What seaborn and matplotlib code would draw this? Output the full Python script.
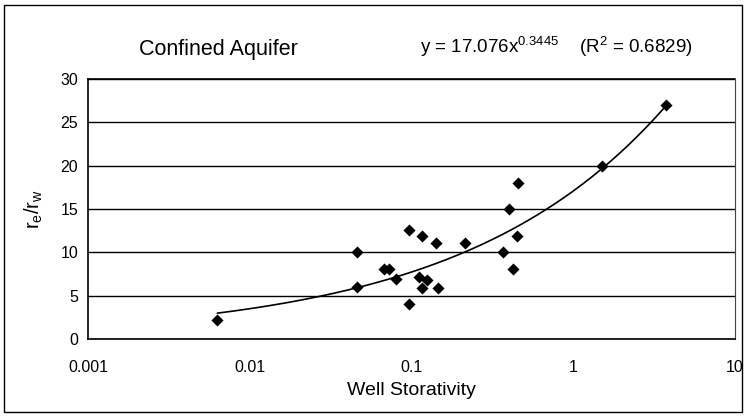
import numpy as np
import pandas as pd
import matplotlib
matplotlib.use("Agg")
import matplotlib.pyplot as plt
from matplotlib.patches import Rectangle
from matplotlib.ticker import FixedLocator, FixedFormatter, NullLocator
import seaborn as sns

# ---- data ----
storativity = [0.0063, 0.046, 0.046, 0.068, 0.073, 0.080, 0.097, 0.097,
               0.111, 0.116, 0.116, 0.125, 0.142, 0.146, 0.214,
               0.368, 0.40, 0.424, 0.449, 0.455, 1.51, 3.74]
re_rw = [2.2, 10.0, 6.0, 8.1, 8.1, 6.9, 12.6, 4.0,
         7.2, 11.9, 5.9, 6.8, 11.1, 5.9, 11.1,
         10.0, 15.0, 8.1, 11.9, 18.0, 20.0, 27.0]

fit_a = 17.076
fit_b = 0.3445
fit_r2 = 0.6829

x_ticks = [0.001, 0.01, 0.1, 1, 10]
x_tick_labels = ["0.001", "0.01", "0.1", "1", "10"]
y_ticks = [0, 5, 10, 15, 20, 25, 30]

title = "Confined Aquifer"
x_label = "Well Storativity"
y_label = r"$\mathregular{r_e/r_w}$"

# ---- plot ----
sns.set_theme(style="white")
plt.rcParams["font.family"] = ["Liberation Sans", "DejaVu Sans"]
plt.rcParams["mathtext.fontset"] = "custom"
plt.rcParams["mathtext.rm"] = "Liberation Sans"
plt.rcParams["mathtext.it"] = "Liberation Sans"

fig = plt.figure(figsize=(7.46, 4.16), dpi=100)
ax = fig.add_axes([88 / 746, 1 - 339 / 416, (735 - 88) / 746, (339 - 79) / 416])

df = pd.DataFrame({"S": storativity, "R": re_rw})

# trend line (power fit) from min to max of data
xs = np.logspace(np.log10(min(storativity)), np.log10(max(storativity)), 200)
line_df = pd.DataFrame({"S": xs, "R": fit_a * xs ** fit_b})
sns.lineplot(data=line_df, x="S", y="R", ax=ax, color="black", linewidth=1.2,
             zorder=3)
sns.scatterplot(data=df, x="S", y="R", ax=ax, marker="D", s=38, color="black",
                edgecolor="black", linewidth=0, zorder=4)

ax.set_xscale("log")
ax.set_xlim(0.001, 10)
ax.set_ylim(0, 30)
ax.xaxis.set_major_locator(FixedLocator(x_ticks))
ax.xaxis.set_major_formatter(FixedFormatter(x_tick_labels))
ax.xaxis.set_minor_locator(NullLocator())
ax.set_yticks(y_ticks)
ax.yaxis.grid(True, color="black", linewidth=1.0)
ax.xaxis.grid(False)
ax.set_axisbelow(True)

for side in ["left", "bottom", "top"]:
    ax.spines[side].set_color("black")
    ax.spines[side].set_linewidth(1.2)
ax.spines["right"].set_color("#444444")
ax.spines["right"].set_linewidth(0.8)
ax.spines["right"].set_linestyle((0, (2, 1)))

ax.tick_params(axis="x", which="major", direction="in", length=4, width=0.8,
               color="black", labelsize=11.5, pad=15, labelcolor="black")
ax.tick_params(axis="y", which="major", direction="out", length=0, width=0.8,
               labelsize=11.5, pad=7, labelcolor="black")

ax.set_xlabel(x_label, fontsize=14, color="black", labelpad=5)
ax.set_ylabel(y_label, fontsize=14.5, color="black", labelpad=11)

fig.text(218 / 746, 1 - 49 / 416, title, fontsize=15.5, ha="center",
         va="center", color="black")
eq = (r"y = %.3fx$^{\mathregular{%.4f}}$    (R$^{\mathregular{2}}$ = %.4f)"
      % (fit_a, fit_b, fit_r2))
fig.text(556 / 746, 1 - 47 / 416, eq, fontsize=13.5, ha="center", va="center",
         color="black")

# outer chart border
fig.patches.append(Rectangle((4 / 746, 4 / 416), 738 / 746, 407 / 416,
                             transform=fig.transFigure, fill=False,
                             edgecolor="black", linewidth=1.0))

fig.savefig("out.png", dpi=100, facecolor="white")
